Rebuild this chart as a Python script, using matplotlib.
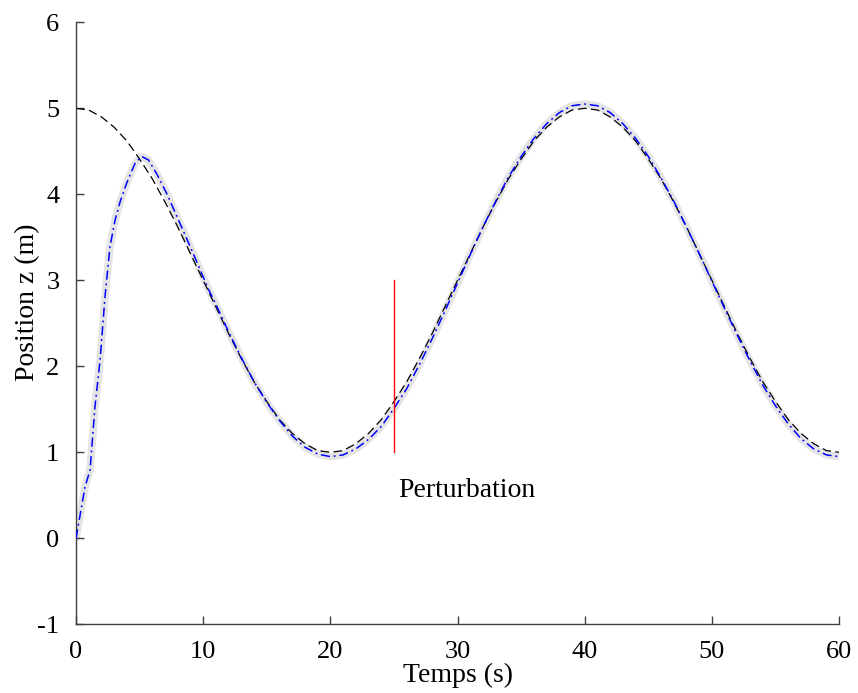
import matplotlib.pyplot as plt

# reference trajectory (black dashed), read every second
t_ref = list(range(0, 61))
z_ref = [5.00, 4.98, 4.90, 4.78, 4.62, 4.41, 4.18, 3.91, 3.62, 3.31,
         3.00, 2.69, 2.38, 2.09, 1.82, 1.59, 1.38, 1.22, 1.10, 1.02,
         1.00, 1.02, 1.10, 1.22, 1.38, 1.59, 1.82, 2.09, 2.38, 2.69,
         3.00, 3.31, 3.62, 3.91, 4.18, 4.41, 4.62, 4.78, 4.90, 4.98,
         5.00, 4.98, 4.90, 4.78, 4.62, 4.41, 4.18, 3.91, 3.62, 3.31,
         3.00, 2.69, 2.38, 2.09, 1.82, 1.59, 1.38, 1.22, 1.10, 1.02,
         1.00]

# measured position (blue dash-dot over grey band)
t_pos = [0.0, 0.71, 1.10, 1.49, 1.89, 2.28, 2.67, 3.07, 3.46, 3.98,
         4.64, 5.16, 5.69, 6.34, 7.13, 8.18, 9.22, 10.4,
         11, 12, 13, 14, 15, 16, 17, 18, 19, 20, 21, 22, 23, 24, 25,
         26, 27, 28, 29, 30, 31, 32, 33, 34, 35, 36, 37, 38, 39, 40,
         41, 42, 43, 44, 45, 46, 47, 48, 49, 50, 51, 52, 53, 54, 55,
         56, 57, 58, 59, 60]
z_pos = [0.00, 0.60, 0.79, 1.53, 2.07, 2.81, 3.39, 3.70, 3.91, 4.13,
         4.36, 4.44, 4.40, 4.24, 4.01, 3.66, 3.31, 2.90,
         2.72, 2.40, 2.10, 1.82, 1.58, 1.37, 1.19, 1.06, 0.98, 0.95,
         0.97, 1.04, 1.15, 1.30, 1.51,
         1.74, 2.02, 2.32, 2.64, 2.97, 3.30, 3.62, 3.92, 4.20, 4.44,
         4.65, 4.82, 4.95, 5.03, 5.05,
         5.03, 4.95, 4.82, 4.65, 4.44, 4.19, 3.92, 3.62, 3.31, 2.99,
         2.67, 2.36, 2.06, 1.78, 1.54, 1.33, 1.16, 1.04, 0.97, 0.95]

t_perturb = 25
z_perturb = [1, 3]

x_ticks = [0, 10, 20, 30, 40, 50, 60]
y_ticks = [-1, 0, 1, 2, 3, 4, 5, 6]
y_tick_labels = ["-1", "0", "1", "2", "3", "4", "5", "6"]

plt.rcParams["font.family"] = ["Liberation Serif", "DejaVu Serif"]

fig = plt.figure(figsize=(8.58, 6.93), dpi=100)
ax = fig.add_axes([0.0886, 0.0991, 0.8894, 0.8687])

ax.plot(t_pos, z_pos, color="#e4e4e4", lw=5.5, solid_capstyle="round", zorder=1)
ax.plot(t_ref, z_ref, color="black", lw=0.9, dashes=(7, 3.5), zorder=2)
ax.plot(t_pos, z_pos, color="blue", lw=1.1, dashes=(6, 2.5, 1.2, 2.5), zorder=3)
ax.plot([t_perturb, t_perturb], z_perturb, color="red", lw=1.0, zorder=4)
ax.text(t_perturb + 0.3, 0.56, "Perturbation", fontsize=20, va="center", ha="left")

ax.set_xlim(0, 60)
ax.set_ylim(-1, 6)
ax.set_xticks(x_ticks)
ax.set_yticks(y_ticks)
ax.set_yticklabels(y_tick_labels)

for side in ["top", "right"]:
    ax.spines[side].set_visible(False)
for side in ["left", "bottom"]:
    ax.spines[side].set_color("#404040")
    ax.spines[side].set_linewidth(1.0)

ax.tick_params(direction="in", length=6, width=1.0, color="#404040",
               labelsize=19, pad=12)

ax.set_xlabel("Temps (s)", fontsize=20)
ax.set_ylabel("Position z (m)", fontsize=20)
ax.xaxis.set_label_coords(0.5, -0.064)
ax.yaxis.set_label_coords(-0.047, 0.535)

fig.savefig("out.png", dpi=100)
